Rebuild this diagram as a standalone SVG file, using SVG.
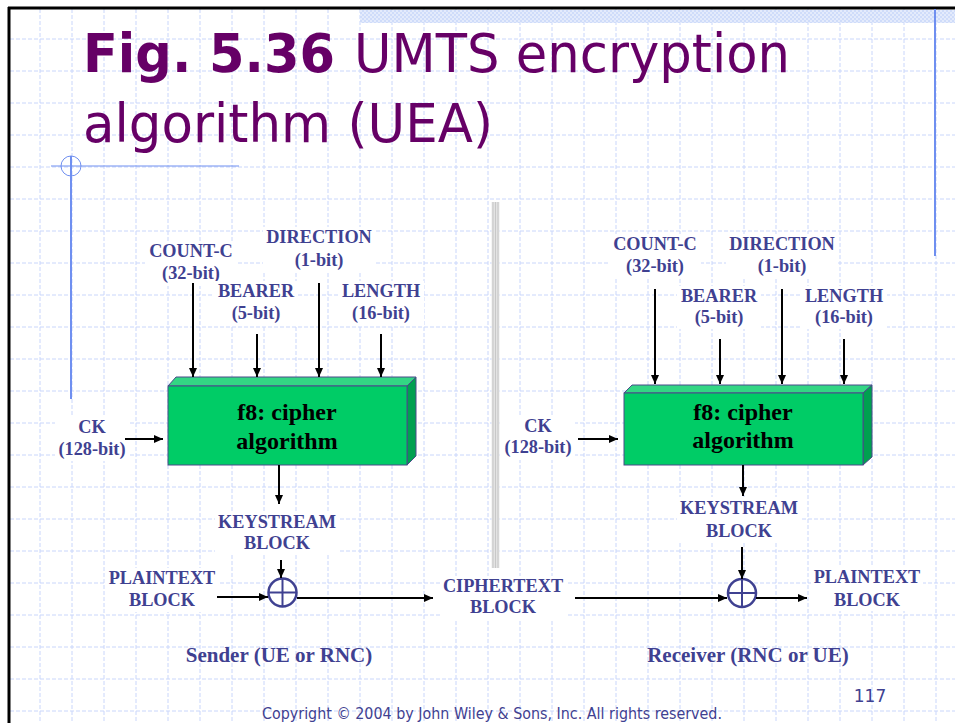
<svg xmlns="http://www.w3.org/2000/svg" width="955" height="723" viewBox="0 0 955 723">
<defs>
<style>
.grid line{stroke:#c9d6fb;stroke-width:1;stroke-dasharray:4 2}
.lbl{font-family:"Liberation Serif","Times New Roman",serif;font-weight:bold;font-size:18.3px;fill:#3f4191;text-anchor:middle}
.big{font-size:21px}
.btxt{font-family:"Liberation Serif","Times New Roman",serif;font-weight:bold;font-size:24px;fill:#000;text-anchor:middle}
.bg{fill:#fff}
.title{font-family:"DejaVu Sans","Noto Sans",sans-serif;font-size:54px;fill:#660066}
.front{fill:#00cc66;stroke:#4a4a8a;stroke-width:1}
.top{fill:#33d684;stroke:#4a4a8a;stroke-width:1}
.side{fill:#00a050;stroke:#4a4a8a;stroke-width:1}
.arr{stroke:#000;stroke-width:2;fill:none;marker-end:url(#ah)}
.xor{fill:#fff;stroke:#3f4191;stroke-width:2.5}
.xl{stroke:#3f4191;stroke-width:2}
.deco{stroke:#6f8ff0;fill:none}
.foot{font-family:"DejaVu Sans","Noto Sans",sans-serif;fill:#3f4191}
</style>
<marker id="ah" markerWidth="9" markerHeight="8" refX="9" refY="4" orient="auto" markerUnits="userSpaceOnUse"><path d="M0,0 L9,4 L0,8 z" fill="#000"/></marker>
<pattern id="hatch" width="4" height="4" patternUnits="userSpaceOnUse"><rect width="4" height="4" fill="#e4ebfc"/><rect width="2" height="2" fill="#cfdcfa"/><rect x="2" y="2" width="2" height="2" fill="#cfdcfa"/></pattern>
</defs>
<rect width="955" height="723" fill="#fff"/>
<g class="grid">
<line x1="40" y1="9" x2="40" y2="723"/><line x1="72" y1="9" x2="72" y2="723"/><line x1="104" y1="9" x2="104" y2="723"/><line x1="136" y1="9" x2="136" y2="723"/><line x1="168" y1="9" x2="168" y2="723"/><line x1="200" y1="9" x2="200" y2="723"/><line x1="232" y1="9" x2="232" y2="723"/><line x1="264" y1="9" x2="264" y2="723"/><line x1="296" y1="9" x2="296" y2="723"/><line x1="328" y1="9" x2="328" y2="723"/><line x1="360" y1="9" x2="360" y2="723"/><line x1="392" y1="9" x2="392" y2="723"/><line x1="424" y1="9" x2="424" y2="723"/><line x1="456" y1="9" x2="456" y2="723"/><line x1="488" y1="9" x2="488" y2="723"/><line x1="520" y1="9" x2="520" y2="723"/><line x1="552" y1="9" x2="552" y2="723"/><line x1="584" y1="9" x2="584" y2="723"/><line x1="616" y1="9" x2="616" y2="723"/><line x1="648" y1="9" x2="648" y2="723"/><line x1="680" y1="9" x2="680" y2="723"/><line x1="712" y1="9" x2="712" y2="723"/><line x1="744" y1="9" x2="744" y2="723"/><line x1="776" y1="9" x2="776" y2="723"/><line x1="808" y1="9" x2="808" y2="723"/><line x1="840" y1="9" x2="840" y2="723"/><line x1="872" y1="9" x2="872" y2="723"/><line x1="904" y1="9" x2="904" y2="723"/><line x1="936" y1="9" x2="936" y2="723"/>
<line x1="10" y1="39" x2="955" y2="39"/><line x1="10" y1="71" x2="955" y2="71"/><line x1="10" y1="103" x2="955" y2="103"/><line x1="10" y1="135" x2="955" y2="135"/><line x1="10" y1="167" x2="955" y2="167"/><line x1="10" y1="199" x2="955" y2="199"/><line x1="10" y1="231" x2="955" y2="231"/><line x1="10" y1="263" x2="955" y2="263"/><line x1="10" y1="295" x2="955" y2="295"/><line x1="10" y1="327" x2="955" y2="327"/><line x1="10" y1="359" x2="955" y2="359"/><line x1="10" y1="391" x2="955" y2="391"/><line x1="10" y1="423" x2="955" y2="423"/><line x1="10" y1="455" x2="955" y2="455"/><line x1="10" y1="487" x2="955" y2="487"/><line x1="10" y1="519" x2="955" y2="519"/><line x1="10" y1="551" x2="955" y2="551"/><line x1="10" y1="583" x2="955" y2="583"/><line x1="10" y1="615" x2="955" y2="615"/><line x1="10" y1="647" x2="955" y2="647"/><line x1="10" y1="679" x2="955" y2="679"/><line x1="10" y1="711" x2="955" y2="711"/>
</g>
<rect x="360" y="10" width="595" height="13" fill="url(#hatch)"/>
<line x1="8" y1="8" x2="955" y2="8" stroke="#000" stroke-width="3"/>
<line x1="9" y1="7" x2="9" y2="723" stroke="#000" stroke-width="3"/>
<g id="decor">
<line class="deco" x1="935" y1="9" x2="935" y2="256" stroke-width="2"/>
<line class="deco" x1="71" y1="156" x2="71" y2="399" stroke-width="2"/>
<line class="deco" x1="51" y1="166" x2="239" y2="166" stroke-width="1"/>
<circle class="deco" cx="71" cy="166" r="10" stroke-width="1"/>
</g>
<g id="title">
<text class="title" x="83" y="72" font-weight="bold" textLength="252" lengthAdjust="spacingAndGlyphs">Fig. 5.36</text>
<text class="title" x="354" y="72" textLength="436" lengthAdjust="spacingAndGlyphs">UMTS encryption</text>
<text class="title" x="83" y="142" textLength="410" lengthAdjust="spacingAndGlyphs">algorithm (UEA)</text>
</g>
<g id="separator">
<rect x="491.5" y="202" width="8" height="366" fill="#ececec"/>
<line x1="493" y1="202" x2="493" y2="568" stroke="#bdbdbd" stroke-width="1"/>
<line x1="495.5" y1="202" x2="495.5" y2="568" stroke="#c8c8c8" stroke-width="1.5"/>
<line x1="498" y1="202" x2="498" y2="568" stroke="#bdbdbd" stroke-width="1"/>
</g>
<!-- Sender side -->
<g id="s-count"><rect class="bg" x="145" y="241" width="92" height="45"/><text class="lbl" x="191" y="257">COUNT-C</text><text class="lbl" x="191" y="279">(32-bit)</text></g>
<g id="s-direction"><rect class="bg" x="263" y="227" width="112" height="45"/><text class="lbl" x="319" y="243">DIRECTION</text><text class="lbl" x="319" y="266">(1-bit)</text></g>
<g id="s-bearer"><rect class="bg" x="214" y="281" width="84" height="44"/><text class="lbl" x="256" y="297">BEARER</text><text class="lbl" x="256" y="319">(5-bit)</text></g>
<g id="s-length"><rect class="bg" x="338" y="281" width="86" height="44"/><text class="lbl" x="381" y="297">LENGTH</text><text class="lbl" x="381" y="319">(16-bit)</text></g>
<g id="s-ck"><rect class="bg" x="55" y="417" width="74" height="44"/><text class="lbl" x="92" y="433">CK</text><text class="lbl" x="92" y="455">(128-bit)</text></g>
<g id="s-f8">
<polygon class="top" points="168,386 176,377 416,377 407,386"/>
<polygon class="side" points="407,386 416,377 416,456 407,465"/>
<rect class="front" x="168" y="386" width="239" height="79"/>
<text class="btxt" x="287" y="420">f8: cipher</text><text class="btxt" x="287" y="449">algorithm</text>
</g>
<g id="s-keystream"><rect class="bg" x="215" y="512" width="124" height="43"/><text class="lbl" x="277" y="528">KEYSTREAM</text><text class="lbl" x="277" y="549">BLOCK</text></g>
<g id="s-plain"><rect class="bg" x="106" y="568" width="112" height="44"/><text class="lbl" x="162" y="584">PLAINTEXT</text><text class="lbl" x="162" y="606">BLOCK</text></g>
<g id="s-xor"><circle class="xor" cx="282.5" cy="592.5" r="14"/><line class="xl" x1="268.5" y1="592.5" x2="296.5" y2="592.5"/><line class="xl" x1="282.5" y1="578.5" x2="282.5" y2="606.5"/></g>
<g id="cipher"><rect class="bg" x="440" y="576" width="126" height="43"/><text class="lbl" x="503" y="592">CIPHERTEXT</text><text class="lbl" x="503" y="613">BLOCK</text></g>
<g id="sender"><text class="lbl big" x="279" y="662">Sender (UE or RNC)</text></g>
<!-- Receiver side -->
<g id="r-count"><rect class="bg" x="609" y="234" width="92" height="44"/><text class="lbl" x="655" y="250">COUNT-C</text><text class="lbl" x="655" y="272">(32-bit)</text></g>
<g id="r-direction"><rect class="bg" x="726" y="234" width="112" height="44"/><text class="lbl" x="782" y="250">DIRECTION</text><text class="lbl" x="782" y="272">(1-bit)</text></g>
<g id="r-bearer"><rect class="bg" x="677" y="286" width="84" height="43"/><text class="lbl" x="719" y="302">BEARER</text><text class="lbl" x="719" y="323">(5-bit)</text></g>
<g id="r-length"><rect class="bg" x="801" y="286" width="86" height="43"/><text class="lbl" x="844" y="302">LENGTH</text><text class="lbl" x="844" y="323">(16-bit)</text></g>
<g id="r-ck"><rect class="bg" x="501" y="416" width="74" height="44"/><text class="lbl" x="538" y="432">CK</text><text class="lbl" x="538" y="453">(128-bit)</text></g>
<g id="r-f8">
<polygon class="top" points="624,393 632,385 872,385 863,393"/>
<polygon class="side" points="863,393 872,385 872,457 863,465"/>
<rect class="front" x="624" y="393" width="239" height="72"/>
<text class="btxt" x="743" y="420">f8: cipher</text><text class="btxt" x="743" y="448">algorithm</text>
</g>
<g id="r-keystream"><rect class="bg" x="677" y="497" width="124" height="45"/><text class="lbl" x="739" y="514">KEYSTREAM</text><text class="lbl" x="739" y="537">BLOCK</text></g>
<g id="r-xor"><circle class="xor" cx="742" cy="593" r="14"/><line class="xl" x1="728" y1="593" x2="756" y2="593"/><line class="xl" x1="742" y1="579" x2="742" y2="607"/></g>
<g id="r-plain"><rect class="bg" x="811" y="567" width="112" height="44"/><text class="lbl" x="867" y="583">PLAINTEXT</text><text class="lbl" x="867" y="606">BLOCK</text></g>
<g id="receiver"><text class="lbl big" x="748" y="662">Receiver (RNC or UE)</text></g>
<g id="connectors">
<line class="arr" x1="193" y1="283" x2="193" y2="377"/>
<line class="arr" x1="257" y1="334" x2="257" y2="377"/>
<line class="arr" x1="319" y1="283" x2="319" y2="377"/>
<line class="arr" x1="381" y1="334" x2="381" y2="377"/>
<line class="arr" x1="125" y1="439" x2="163" y2="439"/>
<line class="arr" x1="279" y1="465" x2="279" y2="504"/>
<line class="arr" x1="281" y1="560" x2="281" y2="578"/>
<line class="arr" x1="217" y1="597" x2="268" y2="597"/>
<line class="arr" x1="297" y1="598" x2="433" y2="598"/>
<line class="arr" x1="575" y1="598" x2="727" y2="598"/>
<line class="arr" x1="756" y1="598" x2="807" y2="598"/>
<line class="arr" x1="655" y1="289" x2="655" y2="384"/>
<line class="arr" x1="720" y1="339" x2="720" y2="384"/>
<line class="arr" x1="782" y1="289" x2="782" y2="384"/>
<line class="arr" x1="844" y1="339" x2="844" y2="384"/>
<line class="arr" x1="578" y1="439" x2="618" y2="439"/>
<line class="arr" x1="743" y1="465" x2="743" y2="496"/>
<line class="arr" x1="742" y1="547" x2="742" y2="579"/>
</g>
<g id="footer">
<text class="foot" x="870" y="702" font-size="17" text-anchor="middle">117</text>
<text class="foot" x="262" y="719" font-size="15" textLength="460" lengthAdjust="spacingAndGlyphs">Copyright © 2004 by John Wiley &amp; Sons, Inc. All rights reserved.</text>
</g>
</svg>
